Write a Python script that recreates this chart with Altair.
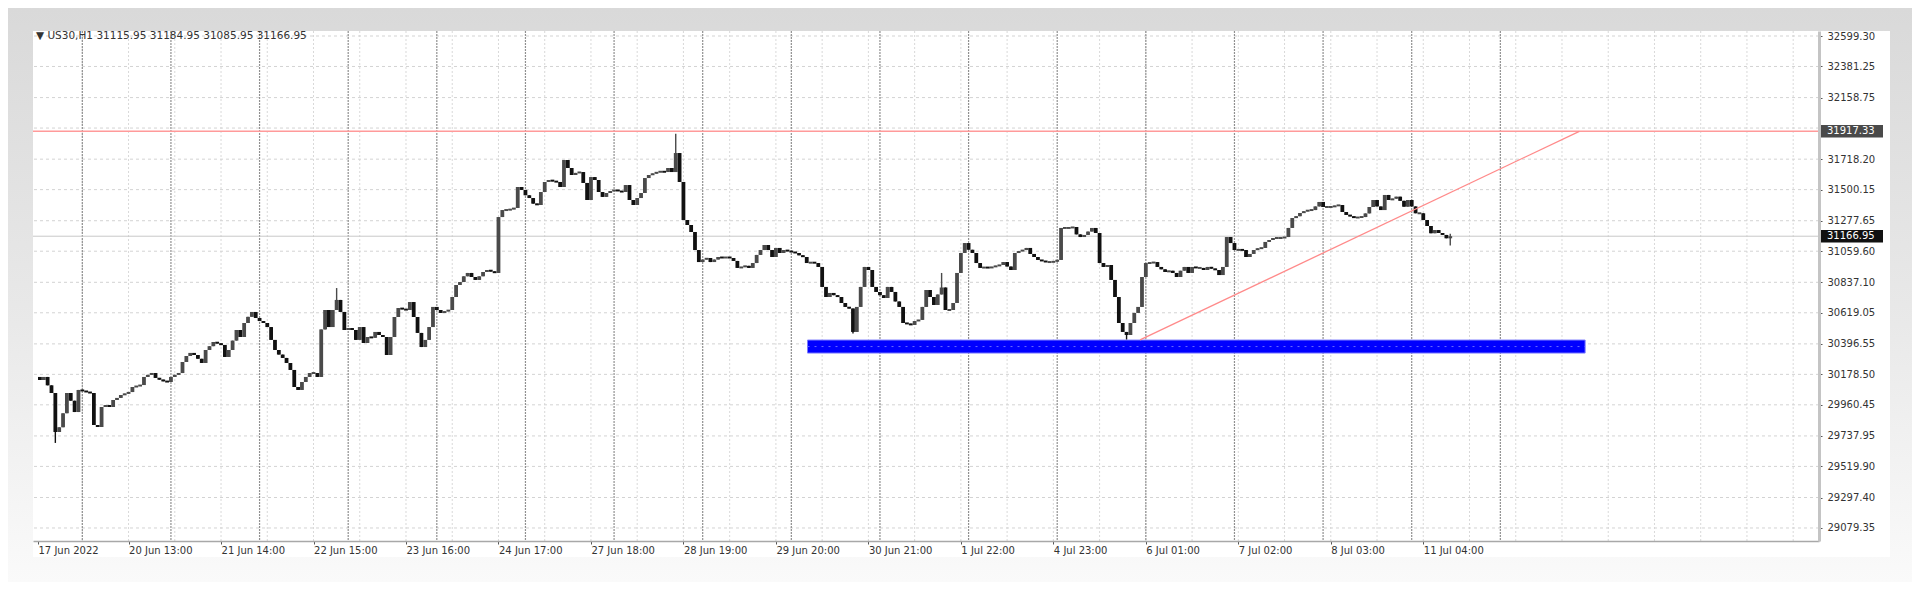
import altair as alt
import pandas as pd

# ---------------- data ----------------
closes = [
    30138, 30160, 30100, 30045, 29766, 29800, 29900, 30045, 29990, 29909,
    30067, 30060, 30052, 30045, 29816, 29802, 29945, 29959, 29945, 29995,
    30010, 30031, 30040, 30052, 30088, 30095, 30102, 30160, 30175, 30188,
    30153, 30140, 30130, 30124, 30160, 30175, 30188, 30267, 30310, 30332,
    30317, 30290, 30260, 30353, 30380, 30410, 30400, 30389, 30303, 30353,
    30420, 30496, 30446, 30546, 30590, 30625, 30582, 30560, 30546, 30517,
    30425, 30353, 30320, 30296, 30260, 30210, 30088, 30067, 30124, 30160,
    30188, 30188, 30160, 30500, 30639, 30517, 30639, 30711, 30625, 30496,
    30510, 30496, 30425, 30517, 30403, 30446, 30440, 30482, 30460, 30446,
    30317, 30446, 30589, 30653, 30645, 30639, 30696, 30589, 30475, 30374,
    30425, 30517, 30661, 30639, 30618, 30630, 30639, 30732, 30818, 30839,
    30880, 30904, 30875, 30854, 30880, 30911, 30925, 30915, 30904, 31304,
    31354, 31354, 31360, 31369, 31519, 31498, 31460, 31440, 31400, 31390,
    31483, 31555, 31569, 31560, 31555, 31519, 31712, 31655, 31605, 31620,
    31626, 31548, 31426, 31590, 31569, 31483, 31448, 31476, 31490, 31498,
    31490, 31483, 31533, 31426, 31390, 31440, 31476, 31583, 31605, 31615,
    31626, 31630, 31626, 31655, 31626, 31762, 31555, 31283, 31247, 31197,
    31068, 30982, 31000, 31011, 30982, 31000, 31018, 31011, 31018, 31011,
    30990, 30940, 30947, 30955, 30940, 30975, 31033, 31068, 31104, 31068,
    31018, 31083, 31047, 31068, 31060, 31054, 31047, 31030, 31018, 30975,
    30980, 30975, 30947, 30804, 30732, 30761, 30745, 30732, 30689, 30661,
    30650, 30482, 30661, 30804, 30947, 30925, 30804, 30768, 30745, 30725,
    30804, 30768, 30700, 30661, 30546, 30540, 30532, 30560, 30568, 30661,
    30782, 30732, 30675, 30750, 30800, 30639, 30639, 30689, 30904, 31047,
    31118, 31070, 31047, 30975, 30940, 30945, 30940, 30947, 30955, 30961,
    30982, 30950, 30925, 31047, 31060, 31068, 31083, 31040, 31018, 30997,
    30990, 30982, 30982, 30985, 30997, 31226, 31226, 31226, 31233, 31180,
    31161, 31176, 31200, 31226, 31190, 30975, 30947, 30961, 30854, 30732,
    30546, 30482, 30460, 30546, 30618, 30661, 30875, 30975, 30975, 30982,
    30947, 30930, 30911, 30920, 30904, 30875, 30920, 30947, 30904, 30947,
    30940, 30940, 30925, 30947, 30935, 30925, 30889, 30947, 31161, 31118,
    31068, 31070, 31068, 31018, 31040, 31068, 31080, 31083, 31126, 31140,
    31154, 31154, 31154, 31161, 31226, 31297, 31310, 31333, 31345, 31354,
    31354, 31380, 31412, 31376, 31376, 31376, 31385, 31390, 31340, 31319,
    31310, 31297, 31304, 31304, 31330, 31376, 31426, 31380, 31354, 31462,
    31426, 31435, 31450, 31420, 31378, 31426, 31380, 31331, 31331, 31283,
    31240, 31188, 31211, 31190, 31176, 31152, 31167,
]
first_open = 30160
wick_high = {77: 30796, 165: 31900, 234: 30904, 366: 31185}
wick_low = {4: 29688, 211: 30470, 282: 30428, 366: 31100}

x_label_idx = [-0.5, 23, 47, 71, 95, 119, 143, 167, 191, 215, 239, 263, 287, 311, 335, 359]
x_labels = ["17 Jun 2022", "20 Jun 13:00", "21 Jun 14:00", "22 Jun 15:00", "23 Jun 16:00",
            "24 Jun 17:00", "27 Jun 18:00", "28 Jun 19:00", "29 Jun 20:00", "30 Jun 21:00",
            "1 Jul 22:00", "4 Jul 23:00", "6 Jul 01:00", "7 Jul 02:00", "8 Jul 03:00",
            "11 Jul 04:00"]

y_grid_values = [32599.30, 32381.25, 32158.75, 31940.70, 31718.20, 31500.15, 31277.65,
                 31059.60, 30837.10, 30619.05, 30396.55, 30178.50, 29960.45, 29737.95,
                 29519.90, 29297.40, 29079.35]
y_axis_values = [v for v in y_grid_values if v != 31940.70]  # hidden under the red price tag

day_separators = [11 + 23 * k for k in range(17)]
minor_grid = [11 + 12 * j for j in range(38)]

red_level = 31917.33
bid_level = 31166.95
zone = {"i": 199.2, "i2": 401.0, "p": 30424, "p2": 30331}
trend = {"i": 285.5, "i2": 399.5, "p": 30425, "p2": red_level}
header = "\u25bc US30,H1  31115.95 31184.95 31085.95 31166.95"

# ---------------- geometry / styles ----------------
W, H = 1786, 510
FONT = "DejaVu Sans"
xs = alt.Scale(domain=[-0.5, 460.4], nice=False, zero=False)
ys = alt.Scale(domain=[28986.3, 32635.1], nice=False, zero=False)

labels_js = "[" + ",".join("'%s'" % s for s in x_labels) + "]"
idx_js = "[" + ",".join(str(v) for v in x_label_idx) + "]"

xaxis = alt.Axis(values=x_label_idx, labelExpr=f"{labels_js}[indexof({idx_js}, datum.value)]",
                 grid=False, domainColor="#a8a8a8", domainWidth=1.5, tickColor="#555555",
                 tickSize=3, labelFont=FONT, labelFontSize=10, labelColor="#333333",
                 labelAlign="left", labelPadding=1, labelOverlap=False, labelFlush=False,
                 labelBound=False, title=None, zindex=1)
yaxis = alt.Axis(orient="right", values=y_axis_values, format=".2f", grid=False,
                 domainColor="#c4c4c4", domainWidth=3, tickColor="#555555", tickSize=3,
                 labelPadding=5, labelFont=FONT, labelFontSize=10, labelColor="#333333",
                 labelOverlap=False, title=None, zindex=1)


def X(field="i"):
    return alt.X(f"{field}:Q", scale=xs, axis=xaxis)


def Y(field="p"):
    return alt.Y(f"{field}:Q", scale=ys, axis=yaxis)


# ---------------- candles ----------------
rows = []
prev = first_open
for i, c in enumerate(closes):
    o = prev
    hi = max(o, c, wick_high.get(i, c))
    lo = min(o, c, wick_low.get(i, c))
    top, bot = max(o, c), min(o, c)
    if top - bot < 14:
        mid = (top + bot) / 2
        top, bot = mid + 7, mid - 7
    rows.append({"i": i, "p": bot, "p2": top, "lo": lo, "hi": hi,
                 "up": "up" if c >= o else "down"})
    prev = c
cdf = pd.DataFrame(rows)

one = pd.DataFrame({"a": [0]})

bg = alt.Chart(one).mark_rect(
    clip=False,
    color=alt.Gradient(gradient="linear", x1=0, x2=0, y1=0, y2=1,
                       stops=[alt.GradientStop(color="#d9d9d9", offset=0),
                              alt.GradientStop(color="#e9e9e9", offset=0.55),
                              alt.GradientStop(color="#fafafa", offset=1)])
).encode(x=alt.value(-25), x2=alt.value(W + 93), y=alt.value(-23), y2=alt.value(H + 41))

panel = alt.Chart(one).mark_rect(color="white", clip=False).encode(
    x=alt.value(0), x2=alt.value(W + 71), y=alt.value(0), y2=alt.value(H + 16))

vminor = alt.Chart(pd.DataFrame({"i": minor_grid})).mark_rule(
    color="#d9d9d9", strokeDash=[2, 2], strokeWidth=1).encode(x=X())
hgrid = alt.Chart(pd.DataFrame({"p": y_grid_values})).mark_rule(
    color="#d3d3d3", strokeDash=[3, 3], strokeWidth=1).encode(y=Y())
vday = alt.Chart(pd.DataFrame({"i": day_separators})).mark_rule(
    color="#909090", strokeDash=[2, 1], strokeWidth=1.2).encode(x=X())

bid = alt.Chart(pd.DataFrame({"p": [bid_level]})).mark_rule(
    color="#c8c8c8", strokeWidth=1).encode(y=Y())
red = alt.Chart(pd.DataFrame({"p": [red_level]})).mark_rule(
    color="#ff9a9a", strokeWidth=1.6).encode(y=Y())

zone_df = pd.DataFrame([zone])
zone_rect = alt.Chart(zone_df).mark_rect(color="#0000ff", stroke="#7a7aff", strokeWidth=1).encode(
    x=X(), x2="i2:Q", y=Y(), y2="p2:Q")
zone_mid = alt.Chart(pd.DataFrame({"i": [zone["i"]], "i2": [zone["i2"]],
                                   "p": [(zone["p"] + zone["p2"]) / 2]})).mark_rule(
    color="#6b6bff", strokeDash=[2, 5], strokeWidth=1).encode(x=X(), x2="i2:Q", y=Y())

wicks = alt.Chart(cdf).mark_rule(strokeWidth=1.4).encode(
    x=X(), y=Y("lo"), y2="hi:Q",
    color=alt.Color("up:N", scale=alt.Scale(domain=["up", "down"], range=["#4a4a4a", "#111111"]),
                    legend=None))
bodies = alt.Chart(cdf).mark_bar(size=3.8).encode(
    x=X(), y=Y(), y2="p2:Q",
    color=alt.Color("up:N", scale=alt.Scale(domain=["up", "down"], range=["#3c3c3c", "#111111"]),
                    legend=None))

trend_line = alt.Chart(pd.DataFrame([trend])).mark_rule(color="#ff8a8a", strokeWidth=1.3).encode(
    x=X(), x2="i2:Q", y=Y(), y2="p2:Q")

tag_shape = "M-1,-0.2H1V0.2H-1Z"
tags = pd.DataFrame({"p": [red_level, bid_level], "kind": ["red", "bid"],
                     "txt": ["%.2f" % red_level, "%.2f" % bid_level]})
tag_box = alt.Chart(tags).mark_point(shape=tag_shape, filled=True, opacity=1, size=63 * 63,
                                     clip=False).encode(
    x=alt.value(W + 32.5), y=Y(),
    color=alt.Color("kind:N", scale=alt.Scale(domain=["red", "bid"], range=["#ff0000", "#000000"]),
                    legend=None))
tag_txt = alt.Chart(tags).mark_text(align="left", baseline="middle", font=FONT, fontSize=10,
                                    color="white", clip=False).encode(
    x=alt.value(W + 8), y=Y(), text="txt:N")

head = alt.Chart(one).mark_text(align="left", baseline="middle", font=FONT, fontSize=10.5,
                                color="#333333").encode(
    x=alt.value(3), y=alt.value(5), text=alt.value(header))

chart = alt.layer(
    bg, panel, vminor, hgrid, vday, bid, red, zone_rect, zone_mid, wicks, bodies,
    trend_line, tag_box, tag_txt, head
).properties(
    width=W, height=H,
    padding={"left": 25, "top": 23, "right": 93, "bottom": 41},
    autosize=alt.AutoSizeParams(type="none"),
    background="#e6e6e6",
).configure_view(stroke=None)

chart.save("out.html", embed_options={"renderer": "svg", "actions": False})
